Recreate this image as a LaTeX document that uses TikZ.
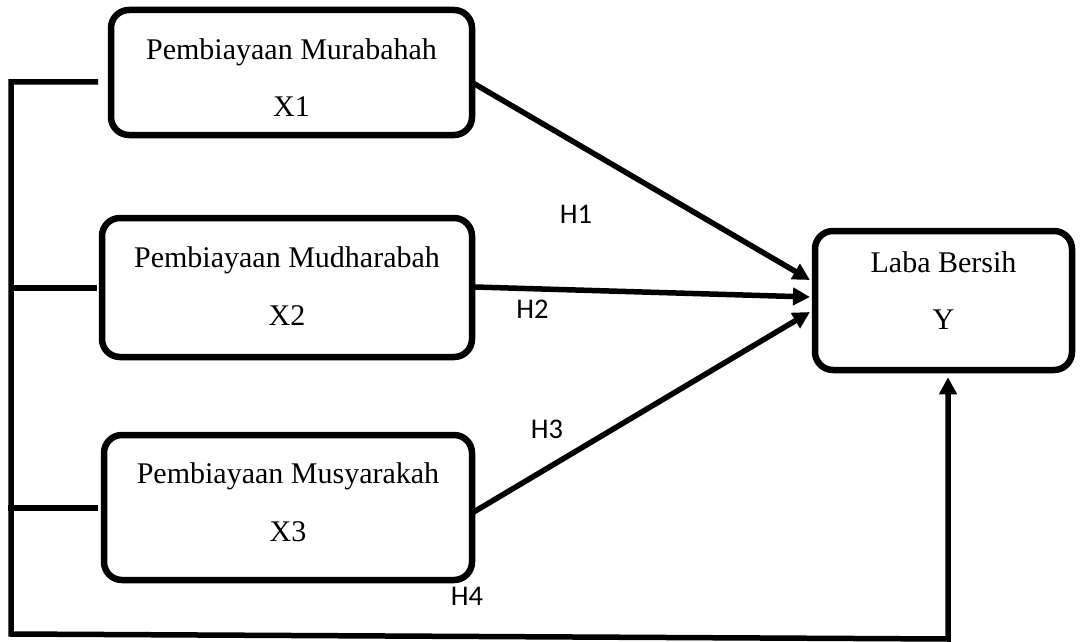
\documentclass[tikz,border=0pt]{standalone}
\usepackage{fontspec}
\setmainfont{Liberation Serif}
\newfontfamily\calib{Carlito}
\usetikzlibrary{arrows.meta}
\begin{document}
\begin{tikzpicture}[x=1pt,y=-1pt,
  box/.style={draw,line width=6.5pt,rounded corners=18pt,inner sep=0pt},
  lbl/.style={font=\fontsize{30}{31}\selectfont,anchor=base,inner sep=0pt},
  hyp/.style={font=\calib\fontsize{28.5}{30}\selectfont,anchor=base,inner sep=0pt},
  conn/.style={line width=5.5pt},
  arr/.style={line width=5.5pt,-{Triangle[length=17pt,width=17pt]}}]
\useasboundingbox (0,0) rectangle (1080,642);

% boxes
\node[box,minimum width=361pt,minimum height=125pt] (x1) at (291.5,72.5) {};
\node[lbl] (x1a) at (291.5,60) {Pembiayaan Murabahah};
\node[lbl] (x1b) at (291.5,117) {X1};

\node[box,minimum width=370pt,minimum height=139pt] (x2) at (287,287.5) {};
\node[lbl] (x2a) at (287,267) {Pembiayaan Mudharabah};
\node[lbl] (x2b) at (287,325) {X2};

\node[box,minimum width=368pt,minimum height=145pt] (x3) at (288,507.5) {};
\node[lbl] (x3a) at (288,483) {Pembiayaan Musyarakah};
\node[lbl] (x3b) at (288,541) {X3};

\node[box,minimum width=257pt,minimum height=139pt] (y) at (943.5,300.5) {};
\node[lbl] (ya) at (943.5,272) {Laba Bersih};
\node[lbl] (yb) at (943.5,329) {Y};

% hypothesis labels
\node[hyp] (h1) at (576,223) {H1};
\node[hyp] (h2) at (532.5,318) {H2};
\node[hyp] (h3) at (547,438) {H3};
\node[hyp] (h4) at (467,605) {H4};

% coordinates
\coordinate (s1) at (473,83);
\coordinate (s2) at (475,287);
\coordinate (s3) at (472,513);
\coordinate (t1) at (810,280);
\coordinate (t2) at (810,297);
\coordinate (t3) at (810,312);
\coordinate (l1) at (98,82);
\coordinate (tl) at (11,82);
\coordinate (bl) at (11,634);
\coordinate (br) at (948,639);
\coordinate (l2a) at (11,288);
\coordinate (l2b) at (97,288);
\coordinate (l3a) at (8,508);
\coordinate (l3b) at (98,508);

% connectors
\draw[arr] (s1) -- (t1);
\draw[arr] (s2) -- (t2);
\draw[arr] (s3) -- (t3);
\draw[conn] (l2a) -- (l2b);
\draw[conn] (l3a) -- (l3b);
\draw[arr,shorten >=4pt] (l1) -- (tl) -- (bl) -- (br) -- (y.south -| br);
\end{tikzpicture}
\end{document}
